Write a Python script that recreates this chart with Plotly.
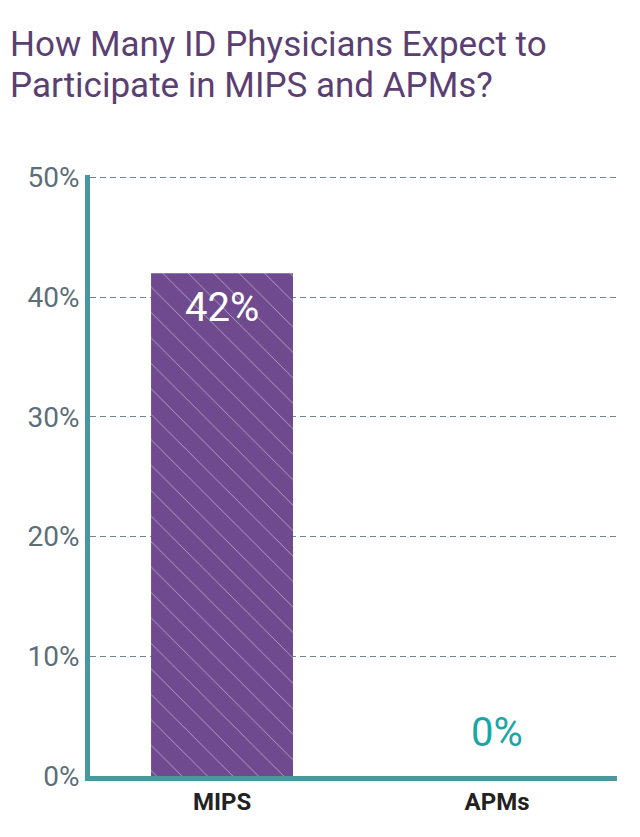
import plotly.graph_objects as go

categories = ["MIPS", "APMs"]
values = [42, 0]
bar_colors = ["#6f4a8e", "#1aa6a6"]
label_colors = ["#ffffff", "#1aa6a6"]
label_shifts = [-34, 44]
y_ticks = [0, 10, 20, 30, 40, 50]
y_tick_text = ["0%", "10%", "20%", "30%", "40%", "50%"]
title_lines = ["How Many ID Physicians Expect to", "Participate in MIPS and APMs?"]

FONT = "Roboto, sans-serif"
L, R, T, B = 90, 23, 175, 61
W, H = 640, 837
PW, PH = W - L - R, H - T - B

fig = go.Figure()
fig.add_trace(go.Bar(
    x=categories, y=values,
    marker=dict(
        color=bar_colors,
        line=dict(width=0),
        pattern=dict(shape="\\", fgcolor="rgba(255,255,255,0.10)", size=18, solidity=0.05),
    ),
    width=0.516,
    hoverinfo="skip",
))

for c, v, col, sh in zip(categories, values, label_colors, label_shifts):
    fig.add_annotation(x=c, y=v, text=f"{v}%", showarrow=False, yshift=sh,
                       font=dict(family=FONT, size=40, color=col),
                       xanchor="center", yanchor="middle")

title_tops = [22, 63]
for line, top in zip(title_lines, title_tops):
    fig.add_annotation(text=line, showarrow=False, xref="paper", yref="paper",
                       x=(8 - L) / PW, y=1 + (T - top) / PH,
                       xanchor="left", yanchor="top", align="left",
                       font=dict(family=FONT, size=35, color="#5b3f72"))

fig.update_layout(
    width=W, height=H,
    margin=dict(l=L, r=R, t=T, b=B),
    paper_bgcolor="white", plot_bgcolor="white",
    showlegend=False,
)
fig.update_xaxes(
    range=[-0.48, 1.436],
    showline=True, linecolor="#4a97a0", linewidth=5,
    showgrid=False, ticks="",
    tickfont=dict(family=FONT, size=24, color="#222222", weight="bold"),
)
fig.update_yaxes(
    range=[0, 50.2], tickvals=y_ticks, ticktext=y_tick_text,
    showline=True, linecolor="#4a97a0", linewidth=5,
    showgrid=True, gridcolor="#6f8590", gridwidth=1, griddash="6px,4px",
    zeroline=False, ticks="",
    tickfont=dict(family=FONT, size=28, color="#5d6e78"),
)

fig.write_html("out.html")
